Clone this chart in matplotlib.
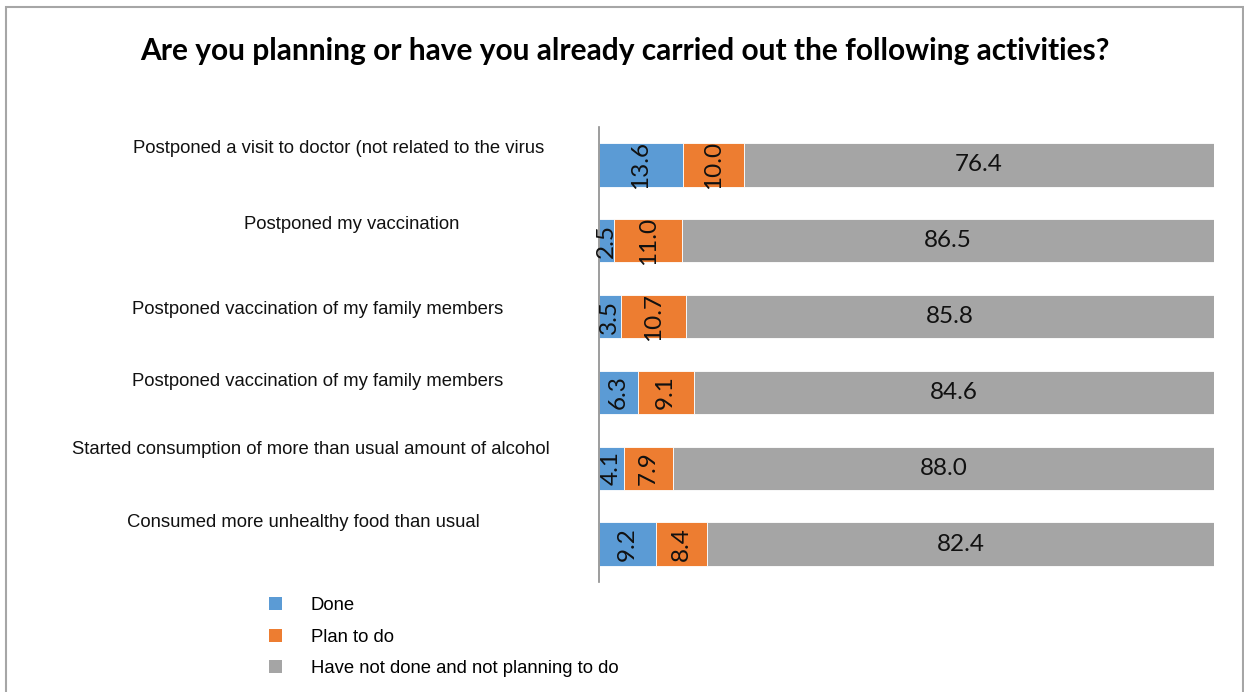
import matplotlib.pyplot as plt
import matplotlib.transforms as mtransforms
from matplotlib.patches import Patch, Rectangle
import numpy as np

# survey answers, percent of respondents
activities = [
    "Postponed a visit to doctor (not related to the virus",
    "Postponed my vaccination",
    "Postponed vaccination of my family members",
    "Postponed vaccination of my family members",
    "Started consumption of more than usual amount of alcohol",
    "Consumed more unhealthy food than usual",
]
done = [13.6, 2.5, 3.5, 6.3, 4.1, 9.2]
plan_to_do = [10.0, 11.0, 10.7, 9.1, 7.9, 8.4]
not_done = [76.4, 86.5, 85.8, 84.6, 88.0, 82.4]

series_names = ["Done", "Plan to do", "Have not done and not planning to do"]
colors = ["#5B9BD5", "#ED7D31", "#A5A5A5"]

# where the category captions sit (axes fraction, row offset)
label_x = [-0.423, -0.402, -0.457, -0.457, -0.468, -0.481]
label_dy = [-0.22, -0.22, -0.09, -0.14, -0.25, -0.28]

fig = plt.figure(figsize=(12.44, 6.92), dpi=100)
ax = fig.add_axes([0.4815, 0.159, 0.4944, 0.6575])

y = np.arange(len(activities))
left = np.zeros(len(activities))
for vals, name, col in zip([done, plan_to_do, not_done], series_names, colors):
    vals = np.array(vals)
    ax.barh(y, vals, left=left, height=0.57, color=col,
            edgecolor="white", linewidth=0.6, label=name)
    for yi, l, v in zip(y, left, vals):
        rot = 0 if col == colors[2] else 90
        ax.text(l + v / 2, yi, f"{v:.1f}", ha="center", va="center",
                rotation=rot, fontsize=17.5, family="Lato", color="#111111")
    left += vals

ax.set_xlim(0, 100)
ax.set_ylim(5.5, -0.5)
ax.set_xticks([])
ax.set_yticks([])
for s in ["top", "right", "bottom"]:
    ax.spines[s].set_visible(False)
ax.spines["left"].set_color("#8C8C8C")
ax.spines["left"].set_linewidth(1.2)

trans = mtransforms.blended_transform_factory(ax.transAxes, ax.transData)
for i, txt in enumerate(activities):
    ax.text(label_x[i], i + label_dy[i], txt, transform=trans,
            ha="center", va="center", fontsize=13.3,
            family="Liberation Sans", color="#111111")

fig.suptitle("Are you planning or have you already carried out the following activities?",
             x=0.502, y=0.947, fontsize=21.5, fontweight="bold", family="Lato")

handles = [Patch(facecolor=c, edgecolor="none") for c in colors]
fig.legend(handles, series_names, loc="upper left",
           bbox_to_anchor=(0.203, 0.161), frameon=False,
           prop={"family": "Liberation Sans", "size": 13.3},
           handlelength=0.7, handleheight=0.7, handletextpad=1.55,
           labelspacing=0.78)

# outer chart frame
fig.patches.append(Rectangle((0.005, -0.01), 0.994, 1.0, transform=fig.transFigure,
                             fill=False, edgecolor="#A6A6A6", linewidth=1.5))

fig.savefig("out.png", dpi=100, facecolor="white")
